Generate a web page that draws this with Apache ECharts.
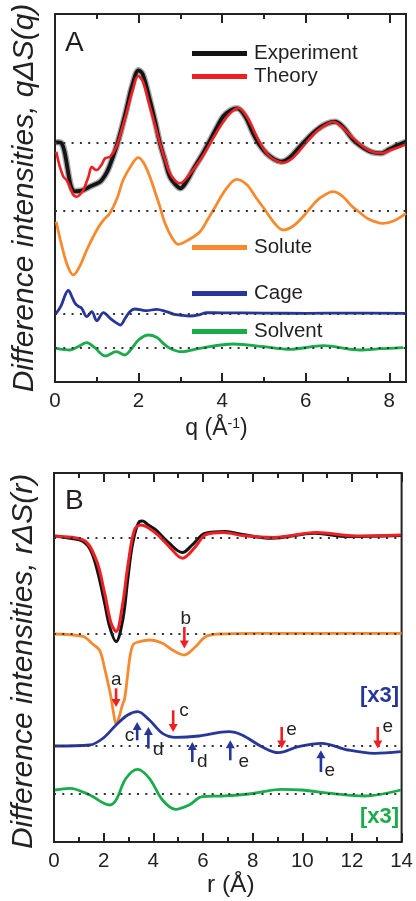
<!DOCTYPE html>
<html><head><meta charset="utf-8">
<script src="https://cdn.jsdelivr.net/npm/echarts@6/dist/echarts.min.js"></script>
<style>html,body{margin:0;padding:0;background:#fff}#c{width:416px;height:901px}</style>
</head><body><div id="c"></div>
<script>
// ---------- Panel A : q (1/Å) vs qΔS(q), each curve relative to its own baseline ----------
const expA = [[0,0],[0.1,0],[0.16,-1],[0.22,-8],[0.28,-21],[0.34,-36],[0.4,-46],[0.48,-49],[0.6,-48.5],[0.68,-47.7],[0.85,-44],[1.08,-39.4],[1.2,-33],[1.3,-24.4],[1.47,-4.4],[1.6,15],[1.71,33],[1.85,57],[2.0,72],[2.1,68],[2.27,42.3],[2.4,20],[2.51,-0.7],[2.63,-18],[2.75,-34.4],[2.9,-43],[3.0,-46],[3.15,-39],[3.31,-27],[3.5,-14],[3.71,2],[3.9,17],[4.03,26],[4.2,32],[4.36,34],[4.55,26],[4.74,9],[4.9,-3],[5.06,-11],[5.25,-17],[5.42,-19.4],[5.6,-16],[5.86,-4.4],[6.05,4],[6.26,12.3],[6.5,18.5],[6.7,20.6],[6.9,15],[7.14,2.3],[7.4,-6],[7.6,-10],[7.8,-11],[8.0,-7],[8.2,-3],[8.4,0.5]];
const theoryA = [[0.03,-9.4],[0.12,-25],[0.2,-34.4],[0.28,-38],[0.36,-45],[0.44,-52.7],[0.52,-54.4],[0.6,-52],[0.68,-47.7],[0.8,-34.4],[0.88,-24.4],[0.95,-27],[1.0,-27.7],[1.11,-22.7],[1.2,-16],[1.32,-14.4],[1.47,-4.4],[1.6,13],[1.71,29],[1.85,51],[1.99,66.3],[2.1,61],[2.27,35.6],[2.4,16],[2.51,-1],[2.63,-17],[2.75,-31],[2.88,-38.5],[2.99,-41],[3.2,-33],[3.47,-18],[3.7,-2],[3.95,15.6],[4.19,29],[4.39,34],[4.6,25],[4.87,2.3],[5.1,-12.7],[5.3,-18.5],[5.46,-20.4],[5.65,-17],[5.9,-6],[6.1,4],[6.3,12.3],[6.5,18],[6.66,20.6],[6.85,16],[7.1,5.6],[7.42,-6],[7.62,-10],[7.81,-11],[8.05,-7.5],[8.37,-2.7]];
const soluteA = [[0.03,-11],[0.15,-33],[0.3,-55],[0.44,-64.3],[0.6,-55],[0.76,-39.3],[1.0,-19.3],[1.15,-10],[1.32,-2],[1.5,14],[1.63,30.7],[1.85,47],[1.99,53],[2.12,48],[2.27,34],[2.4,18],[2.51,4],[2.63,-12.3],[2.8,-27],[2.95,-33.6],[3.2,-29],[3.47,-21],[3.65,-9],[3.79,0.7],[4.1,22],[4.35,31.4],[4.6,25.7],[4.8,13.7],[5.04,0],[5.25,-12.3],[5.46,-19.3],[5.7,-15.3],[5.95,-5.3],[6.15,4.7],[6.34,12.7],[6.66,19],[6.9,13.7],[7.1,4.7],[7.25,-0.3],[7.5,-8.3],[7.85,-12.6],[8.1,-10.3],[8.4,-2.6]];
const cageA = [[0.03,0],[0.15,8],[0.25,19],[0.32,23],[0.4,17],[0.48,10],[0.56,7],[0.64,5],[0.76,-3.4],[0.88,1.6],[1.0,-7.4],[1.16,0.6],[1.32,-5],[1.45,-9],[1.56,-11.7],[1.68,-5],[1.79,1.6],[1.91,4.3],[2.1,3],[2.19,2.6],[2.43,4],[2.67,1.6],[2.85,-1],[2.99,-1.7],[3.23,-2.7],[3.45,-1.5],[3.63,0.6],[4.0,0.5],[5.0,0.2],[6.0,0],[7.0,0.2],[8.4,0]];
const solventA = [[0.03,-0.6],[0.36,-2.3],[0.55,1],[0.76,5],[0.95,0],[1.2,-8.3],[1.47,-4],[1.67,-7.3],[1.85,0],[2.0,7.7],[2.23,12.7],[2.43,10.4],[2.6,4],[2.75,-0.6],[3.03,-4],[3.47,-0.6],[4.27,3.7],[5.0,1],[5.62,-1.6],[6.42,2],[7.3,-2.3],[7.8,-1],[8.33,0]];
// vertical offsets of the curves: experiment/theory, solute, cage, solvent
const baselinesA = [239.7, 171.3, 68.7, 34.3];
const qTicks = [0, 2, 4, 6, 8];

// ---------- Panel B : r (Å) vs rΔS(r) ----------
const expB = [[0.04,1.7],[0.64,-0.6],[1.17,-4],[1.5,-14],[1.77,-35.6],[2.04,-65.6],[2.24,-89],[2.5,-104],[2.77,-82.3],[2.97,-42.3],[3.17,-5.6],[3.44,16],[3.57,16.5],[3.8,12.5],[4.1,7.7],[4.64,-5.6],[5.17,-15],[5.57,-7.3],[6.1,4.4],[6.9,6],[7.6,3],[8.77,-0.6],[10.5,4.4],[11.84,1],[13.97,2]];
const theoryB = [[0.04,1],[1.17,-2.3],[1.7,-22.3],[2.04,-55.6],[2.3,-85.6],[2.5,-94],[2.77,-65.6],[2.97,-29],[3.24,7.7],[3.5,12.7],[4.1,4.4],[4.64,-9],[5.17,-20.6],[5.7,-9],[6.1,2.7],[6.84,5],[7.6,2],[8.84,0],[10.57,5],[12.17,1.7],[13.97,2.7]];
const soluteB = [[0,-0.7],[1.17,-3],[1.4,-7],[1.57,-11],[1.84,-17],[2.04,-35],[2.24,-57],[2.31,-66],[2.4,-80],[2.5,-90.7],[2.62,-84],[2.75,-72],[2.84,-66],[2.95,-45],[3.07,-22],[3.2,-11],[3.44,-8.4],[3.84,-6.7],[4.37,-10],[4.77,-16.7],[5.24,-21.7],[5.7,-13.4],[6.1,-3.4],[6.64,-0.7],[8,0],[14,0]];
const cageB = [[0.04,-0.3],[1.44,0.7],[1.97,7.4],[2.5,20.7],[2.97,30.7],[3.37,34],[3.84,25.7],[4.37,12.4],[4.9,8.4],[5.84,9.7],[7.04,14],[7.57,10.7],[8.37,-1],[9.04,-7],[9.84,-1],[10.77,2.4],[11.84,-4.3],[12.9,-7.6],[13.97,-6]];
const solventB = [[0.04,3.3],[0.64,5],[1.44,-1.7],[2.24,-11.7],[2.5,-6.7],[2.9,15],[3.37,24],[3.84,15],[4.37,-6.7],[4.9,-16],[5.44,-11.7],[5.97,-3.4],[6.77,-2.7],[7.84,-0.7],[9.17,4],[9.97,3.3],[11.17,0],[12.5,-2.7],[13.97,3.3]];
const baselinesB = [304.4, 208.7, 96.3, 48.7];
const rTicks = [0, 2, 4, 6, 8, 10, 12, 14];
// peak-assignment arrows: [r, base value, tip value, letter, label r, label value]
const arrowsB = [
  [2.5, 153.7, 135, 'a', 2.51, 162.4],
  [5.25, 215, 193.4, 'b', 5.31, 223.7],
  [4.8, 131.7, 110, 'c', 5.24, 131],
  [3.35, 101.7, 120, 'c', 3.04, 106],
  [3.8, 93.4, 115, 'd', 4.2, 92.5],
  [5.57, 80, 100, 'd', 5.97, 80],
  [7.1, 81.7, 101.7, 'e', 7.64, 80],
  [9.17, 115, 93.4, 'e', 9.57, 112.7],
  [10.75, 70, 91.7, 'e', 11.11, 71.7],
  [13.04, 115, 93.4, 'e', 13.44, 115]
];

const C = {exp:'#141414', theory:'#ee2024', solute:'#f7892f', cage:'#26369b', solvent:'#1aab4b', ink:'#231f20'};
const FONT = '"Liberation Sans", Arial, sans-serif';
const shift = (arr, off) => arr.map(p => [p[0], p[1] + off]);
const dotted = off => ({silent:true, symbol:['none','none'], label:{show:false}, animation:false,
  lineStyle:{type:[2,6.3], color:'#333', width:1.8}, emphasis:{disabled:true}, data:[{yAxis:off}]});

function xAx(grid, max, ticks, top){
  return {
    type:'value', gridIndex:grid, min:0, max:max, interval:ticks[1]-ticks[0], position: top ? 'top' : 'bottom',
    axisLine:{show:true, lineStyle:{color:'#222', width:2}},
    axisTick:{show:true, inside:true, length:9, lineStyle:{color:'#222', width:2}},
    minorTick:{show:true, splitNumber:2, length:5, lineStyle:{color:'#222', width:2}},
    axisLabel:{show:!top, margin:9, fontSize:20.5, color:'#222', fontFamily:FONT, showMaxLabel: max === ticks[ticks.length-1]},
    splitLine:{show:false}
  };
}
function yAx(grid, max, name, pad){
  return {type:'value', gridIndex:grid, min:0, max:max, name:name, nameLocation:'middle', nameGap:15, nameRotate:90,
    nameTextStyle:{fontSize:30, fontStyle:'italic', color:'#222', fontFamily:FONT, padding:pad},
    axisLine:{show:false}, axisTick:{show:false}, axisLabel:{show:false}, splitLine:{show:false}};
}
function line(name, data, color, xi, yi, width, extra){
  return Object.assign({name:name, type:'line', xAxisIndex:xi, yAxisIndex:yi, data:data, smooth:0.35,
    showSymbol:false, symbol:'none', color:color, lineStyle:{color:color, width:width}, z:3, silent:true}, extra||{});
}
function legendItem(name, top){
  return {data:[name], left:192, top:top, padding:0, icon:'rect', itemWidth:55, itemHeight:5, selectedMode:false,
    textStyle:{fontSize:20.5, color:C.ink, fontFamily:FONT, padding:[0,0,0,2]}};
}

const chart = echarts.init(document.getElementById('c'), null, {renderer:'canvas'});
chart.setOption({
  animation:false,
  backgroundColor:'#fff',
  grid:[
    {left:55, top:14, width:351, height:368, show:true, borderColor:'#222', borderWidth:2},
    {left:54, top:473, width:351, height:369, show:true, borderColor:'#222', borderWidth:2}
  ],
  xAxis:[
    Object.assign(xAx(0, 8.4, qTicks, false), {name:'{a|q (Å}{s|-1}{a|)}', nameLocation:'middle', nameGap:35,
      nameTextStyle:{padding:[0,28,0,0], rich:{a:{fontSize:23, color:'#222', fontFamily:FONT}, s:{fontSize:14, color:'#222', fontFamily:FONT, verticalAlign:'top', padding:[0,0,10,0]}}}}),
    xAx(0, 8.4, qTicks, true),
    Object.assign(xAx(1, 14, rTicks, false), {name:'r (Å)', nameLocation:'middle', nameGap:30,
      nameTextStyle:{fontSize:24.5, color:'#222', fontFamily:FONT, padding:[0,0,0,6]}}),
    xAx(1, 14, rTicks, true)
  ],
  yAxis:[ yAx(0, 368, 'Difference intensities, qΔS(q)', [0,0,0,0]), yAx(1, 369, 'Difference intensities, rΔS(r)', [0,8,0,0]) ],
  legend:[ legendItem('Experiment', 43), legendItem('Theory', 66), legendItem('Solute', 237), legendItem('Cage', 283), legendItem('Solvent', 321) ],
  graphic:[
    {type:'text', left:65, top:29, style:{text:'A', font:'28px ' + FONT, fill:C.ink}},
    {type:'text', left:65, top:487, style:{text:'B', font:'28px ' + FONT, fill:C.ink}},
    {type:'text', right:17, top:685, style:{text:'[x3]', font:'bold 22px ' + FONT, fill:C.cage}},
    {type:'text', right:17, top:806, style:{text:'[x3]', font:'bold 22px ' + FONT, fill:C.solvent}}
  ],
  series:[
    line('errA', shift(expA, baselinesA[0]), 'rgba(40,40,40,0.4)', 0, 0, 6.5, {z:2, lineStyle:{color:'rgba(40,40,40,0.4)', width:6.5}}),
    line('Experiment', shift(expA, baselinesA[0]), C.exp, 0, 0, 3.8, {markLine:dotted(baselinesA[0])}),
    line('Theory', shift(theoryA, baselinesA[0]), C.theory, 0, 0, 2.6, {z:4}),
    line('Solute', shift(soluteA, baselinesA[1]), C.solute, 0, 0, 2.8, {markLine:dotted(baselinesA[1])}),
    line('Cage', shift(cageA, baselinesA[2]), C.cage, 0, 0, 2.8, {markLine:dotted(baselinesA[2])}),
    line('Solvent', shift(solventA, baselinesA[3]), C.solvent, 0, 0, 2.8, {markLine:dotted(baselinesA[3])}),

    line('Experiment r', shift(expB, baselinesB[0]), C.exp, 2, 1, 3, {markLine:dotted(baselinesB[0])}),
    line('Theory r', shift(theoryB, baselinesB[0]), C.theory, 2, 1, 3, {z:4}),
    line('Solute r', shift(soluteB, baselinesB[1]), C.solute, 2, 1, 2.8, {markLine:dotted(baselinesB[1])}),
    line('Cage r', shift(cageB, baselinesB[2]), C.cage, 2, 1, 2.8, {markLine:dotted(baselinesB[2])}),
    line('Solvent r', shift(solventB, baselinesB[3]), C.solvent, 2, 1, 2.8, {markLine:dotted(baselinesB[3])}),
    {
      type:'custom', xAxisIndex:2, yAxisIndex:1, silent:true, z:6,
      data: arrowsB.map(a => [a[0], a[1], a[2], a[4], a[5]]),
      renderItem: function(params, api){
        const a = arrowsB[params.dataIndex];
        const p0 = api.coord([api.value(0), api.value(1)]);
        const p1 = api.coord([api.value(0), api.value(2)]);
        const down = p1[1] > p0[1];
        const color = down ? C.theory : C.cage;
        const head = 8, hw = 4.5, d = down ? 1 : -1;
        const sy = p1[1] - d * head;
        const lp = api.coord([api.value(3), api.value(4)]);
        return {type:'group', children:[
          {type:'line', shape:{x1:p0[0], y1:p0[1], x2:p0[0], y2:sy + d}, style:{stroke:color, lineWidth:2.6}},
          {type:'polygon', shape:{points:[[p1[0]-hw, sy],[p1[0]+hw, sy],[p1[0], p1[1]]]}, style:{fill:color}},
          {type:'text', x:lp[0], y:lp[1], style:{text:a[3], fill:C.ink, font:'19px ' + FONT, align:'center', verticalAlign:'middle'}}
        ]};
      }
    }
  ]
});
</script></body></html>
